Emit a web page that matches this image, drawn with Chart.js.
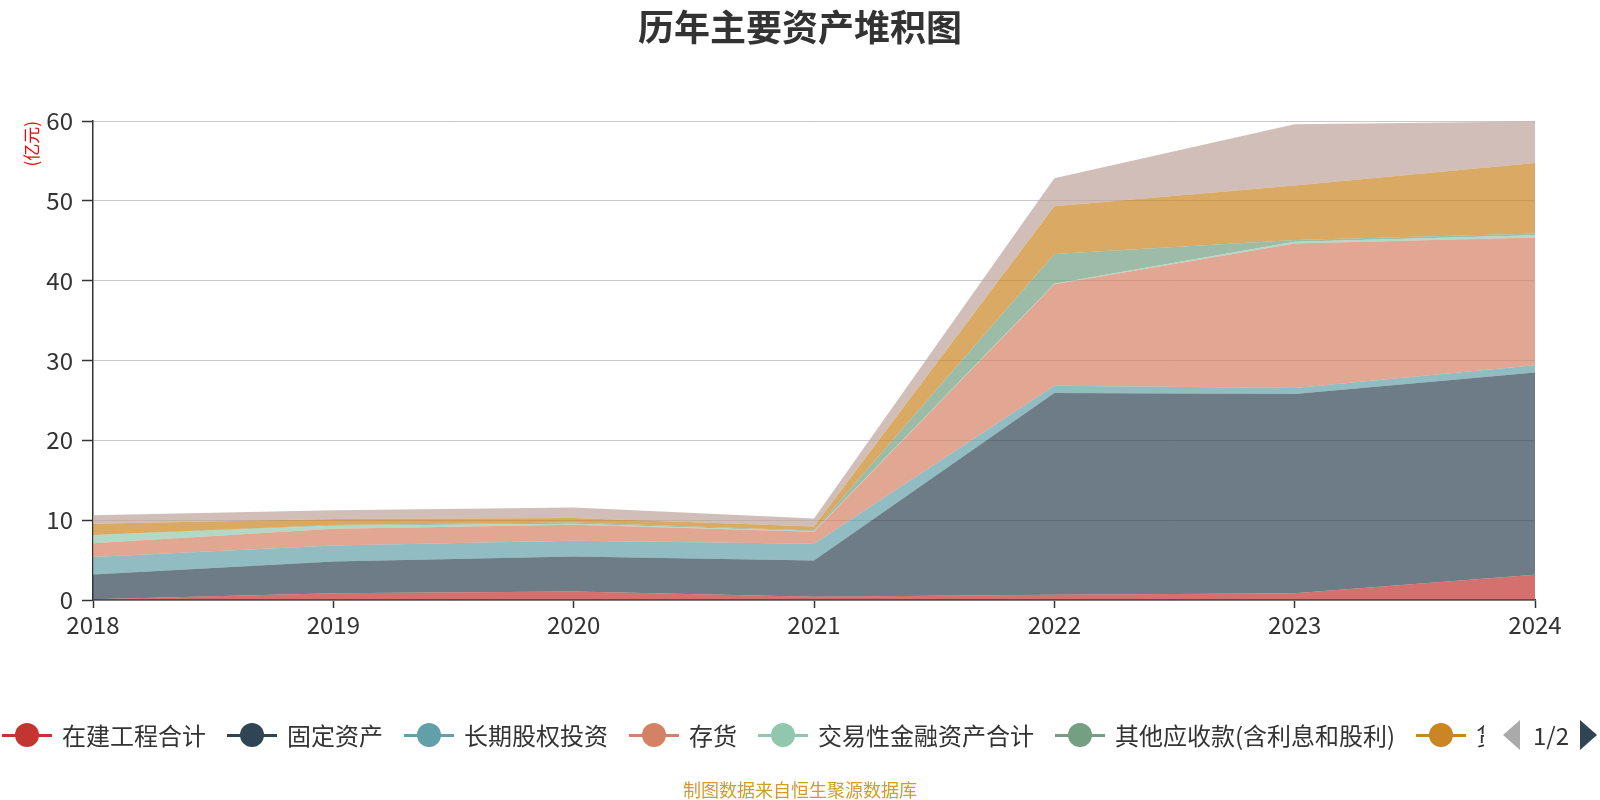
<!DOCTYPE html>
<html>
<head>
<meta charset="utf-8">
<script src="https://cdn.jsdelivr.net/npm/chart.js@4"></script>
<style>
html,body{margin:0;padding:0;background:#fff;}
#wrap{position:relative;width:1600px;height:800px;overflow:hidden;font-family:"Noto Sans CJK SC",sans-serif;}
#c{position:absolute;left:0;top:0;}
#title{position:absolute;left:0;width:1600px;top:4px;text-align:center;font-size:36px;font-weight:bold;color:#333;line-height:43px;}
#legend{position:absolute;left:2px;top:720px;height:30px;width:1482px;overflow:hidden;display:flex;align-items:center;white-space:nowrap;}
.item{display:flex;align-items:center;margin-right:21px;flex:none;}
.icon{position:relative;width:50px;height:30px;flex:none;}
.icon .ln{position:absolute;left:0;right:0;top:13.5px;height:3px;}
.icon .dot{position:absolute;left:13px;top:3px;width:24px;height:24px;border-radius:50%;}
.lbl{margin-left:10px;font-size:24px;color:#333;line-height:30px;}
#pager{position:absolute;top:720px;left:1503px;height:30px;display:flex;align-items:center;}
.tl{width:0;height:0;border-top:15px solid transparent;border-bottom:15px solid transparent;border-right:17px solid #aaa;}
.tr{width:0;height:0;border-top:15px solid transparent;border-bottom:15px solid transparent;border-left:17px solid #2f4554;}
.pg{font-size:24px;color:#333;margin:0 11px 0 13px;line-height:30px;}
#src{position:absolute;left:0;width:1600px;top:777px;text-align:center;font-size:18px;color:#d09c2a;line-height:24px;}
</style>
</head>
<body>
<div id="wrap">
<canvas id="c" width="1600" height="800"></canvas>
<div id="title">历年主要资产堆积图</div>
<div id="legend"></div>
<div id="pager"><div class="tl"></div><span class="pg">1/2</span><div class="tr"></div></div>
<div id="src">制图数据来自恒生聚源数据库</div>
</div>
<script>
// ---- data ----
const years = ['2018','2019','2020','2021','2022','2023','2024'];
const seriesNames = ['在建工程合计','固定资产','长期股权投资','存货','交易性金融资产合计','其他应收款(含利息和股利)','货币资金','应收账款'];
const zaiJian   = [0.08, 0.84, 1.05, 0.40, 0.67, 0.83, 3.17];
const guDing    = [3.11, 3.98, 4.40, 4.55, 25.25, 24.96, 25.33];
const changQi   = [2.19, 2.01, 1.97, 2.10, 0.91, 0.75, 0.92];
const cunHuo    = [1.72, 2.10, 2.01, 1.50, 12.71, 18.13, 15.98];
const jiaoYi    = [1.01, 0.37, 0.12, 0.05, 0.06, 0.20, 0.30];
const qiTa      = [0.04, 0.10, 0.15, 0.10, 3.73, 0.21, 0.20];
const huoBi     = [1.39, 0.75, 0.57, 0.50, 6.00, 6.84, 8.85];
const yingShou  = [1.09, 1.10, 1.33, 1.00, 3.50, 7.66, 5.20];
const yTicks    = [0, 10, 20, 30, 40, 50, 60];

const seriesValues = [zaiJian, guDing, changQi, cunHuo, jiaoYi, qiTa, huoBi, yingShou];
const colors = ['#c23531','#2f4554','#61a0a8','#d48265','#91c7ae','#749f83','#ca8622','#bda29a'];

function rgba(hex, a){
  const n = parseInt(hex.slice(1),16);
  return `rgba(${(n>>16)&255},${(n>>8)&255},${n&255},${a})`;
}

const FONT = '"Noto Sans CJK SC", sans-serif';

const datasets = seriesValues.map((vals,i)=>({
  label: seriesNames[i],
  data: vals,
  backgroundColor: rgba(colors[i],0.7),
  borderColor: colors[i],
  borderWidth: 0,
  pointRadius: 0,
  pointHoverRadius: 0,
  tension: 0,
  fill: i===0 ? 'origin' : '-1'
}));

new Chart(document.getElementById('c'), {
  type: 'line',
  data: { labels: years, datasets },
  options: {
    responsive: false,
    animation: false,
    devicePixelRatio: 1,
    layout: { padding: { left: 10, right: 65, top: 121, bottom: 160 } },
    plugins: {
      legend: { display: false },
      tooltip: { enabled: false },
      title: { display: false }
    },
    scales: {
      x: {
        offset: false,
        grid: { drawOnChartArea: false, drawTicks: true, tickLength: 8, tickColor: '#333', tickWidth: 1.5 },
        border: { display: true, color: '#333', width: 1.5 },
        ticks: { color: '#333', font: { family: FONT, size: 24 }, padding: 2, maxRotation: 0, autoSkip: false },
        afterFit: s => { s.height = 40; }
      },
      y: {
        stacked: true,
        min: 0, max: 60,
        afterBuildTicks: s => { s.ticks = yTicks.map(v => ({ value: v })); },
        grid: { color: '#c8c8c8', lineWidth: 1, drawTicks: true, tickLength: 11, tickColor: '#333', tickWidth: 1.5 },
        border: { display: true, color: '#333', width: 1.5 },
        ticks: { color: '#333', font: { family: FONT, size: 24 }, padding: 9 },
        title: {
          display: true, text: '(亿元)', color: 'red', align: 'end',
          font: { family: FONT, size: 17 }, padding: { top: 11, bottom: 0 }
        },
        afterFit: s => { s.width = 83; }
      }
    }
  }
});

// HTML legend (page 1 of a scroll legend)
const lg = document.getElementById('legend');
seriesNames.forEach((name,i)=>{
  const it = document.createElement('div'); it.className='item';
  const ic = document.createElement('div'); ic.className='icon';
  const ln = document.createElement('div'); ln.className='ln'; ln.style.background=colors[i];
  const dt = document.createElement('div'); dt.className='dot'; dt.style.background=colors[i];
  ic.appendChild(ln); ic.appendChild(dt);
  const tx = document.createElement('span'); tx.className='lbl'; tx.textContent=name;
  it.appendChild(ic); it.appendChild(tx);
  lg.appendChild(it);
});
</script>
</body>
</html>
